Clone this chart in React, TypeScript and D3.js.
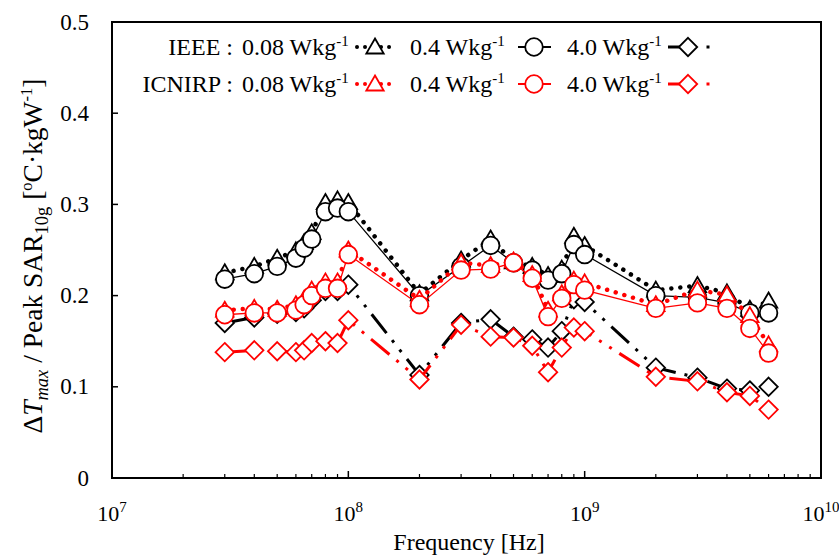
import React from "react";
import * as d3 from "d3";

// Frequencies in MHz
const frequenciesMHz = [30, 40, 50, 60, 65, 70, 80, 90, 100, 200, 300, 400, 500, 600, 700, 800, 900, 1000, 2000, 3000, 4000, 5000, 6000];

const ieee008 = [0.225, 0.232, 0.241, 0.249, 0.258, 0.269, 0.302, 0.305, 0.302, 0.202, 0.239, 0.262, 0.237, 0.232, 0.222, 0.229, 0.265, 0.255, 0.206, 0.211, 0.203, 0.185, 0.194];
const ieee04 = [0.218, 0.224, 0.232, 0.241, 0.252, 0.262, 0.292, 0.296, 0.292, 0.200, 0.232, 0.255, 0.236, 0.228, 0.217, 0.224, 0.256, 0.245, 0.200, 0.198, 0.192, 0.181, 0.181];
const ieee40 = [0.170, 0.176, 0.180, 0.182, 0.186, 0.195, 0.205, 0.205, 0.212, 0.113, 0.170, 0.174, 0.155, 0.152, 0.143, 0.161, 0.196, 0.193, 0.121, 0.110, 0.098, 0.096, 0.100];
const icnirp008 = [0.184, 0.186, 0.185, 0.190, 0.196, 0.206, 0.215, 0.215, 0.250, 0.196, 0.236, 0.233, 0.238, 0.223, 0.184, 0.202, 0.217, 0.214, 0.190, 0.206, 0.201, 0.178, 0.146];
const icnirp04 = [0.179, 0.181, 0.181, 0.184, 0.190, 0.200, 0.208, 0.208, 0.245, 0.190, 0.228, 0.229, 0.236, 0.219, 0.177, 0.197, 0.212, 0.206, 0.186, 0.192, 0.186, 0.164, 0.137];
const icnirp40 = [0.138, 0.140, 0.139, 0.138, 0.140, 0.148, 0.150, 0.148, 0.173, 0.108, 0.168, 0.155, 0.154, 0.145, 0.116, 0.143, 0.165, 0.161, 0.111, 0.106, 0.094, 0.090, 0.075];

const yTicks = [0, 0.1, 0.2, 0.3, 0.4, 0.5];
const yTickLabels = ["0", "0.1", "0.2", "0.3", "0.4", "0.5"];
const xDecades = [7, 8, 9, 10];

const legendRows = ["IEEE :", "ICNIRP :"];
const legendItems = ["0.08 Wkg", "0.4 Wkg", "4.0 Wkg"];

const FONT = "'Liberation Serif', 'Times New Roman', serif";
const BLACK = "#000000";
const RED = "#ff0000";

type Kind = "dot" | "solid" | "dashdot";
type Marker = "tri" | "circle" | "diamond";

const series: { values: number[]; color: string; kind: Kind; marker: Marker }[] = [
  { values: ieee008, color: BLACK, kind: "dot", marker: "tri" },
  { values: ieee04, color: BLACK, kind: "solid", marker: "circle" },
  { values: ieee40, color: BLACK, kind: "dashdot", marker: "diamond" },
  { values: icnirp008, color: RED, kind: "dot", marker: "tri" },
  { values: icnirp04, color: RED, kind: "solid", marker: "circle" },
  { values: icnirp40, color: RED, kind: "dashdot", marker: "diamond" },
];

const lineStyle = (kind: Kind) => {
  if (kind === "dot") return { strokeWidth: 4.5, strokeDasharray: "0.01 9", strokeLinecap: "round" as const };
  if (kind === "solid") return { strokeWidth: 1.3 };
  return { strokeWidth: 3, strokeDasharray: "24 9 3 9 3 9", strokeLinecap: "butt" as const };
};

function MarkerShape({ type, color, cx, cy }: { type: Marker; color: string; cx: number; cy: number }) {
  const common = { fill: "#ffffff", stroke: color, strokeWidth: 1.8 };
  if (type === "circle") return <circle cx={cx} cy={cy} r={8.8} {...common} />;
  if (type === "tri")
    return <path d={`M${cx},${cy - 8.5}L${cx + 8.7},${cy + 6.5}L${cx - 8.7},${cy + 6.5}Z`} {...common} strokeLinejoin="miter" />;
  return <path d={`M${cx},${cy - 9.2}L${cx + 9.2},${cy}L${cx},${cy + 9.2}L${cx - 9.2},${cy}Z`} {...common} />;
}

export default function App() {
  const left = 112, right = 821, top = 22, bottom = 478;
  const x = d3.scaleLog().domain([1e7, 1e10]).range([left, right]);
  const y = d3.scaleLinear().domain([0, 0.5]).range([bottom, top]);
  const freqs = frequenciesMHz.map((f) => f * 1e6);
  const line = d3
    .line<number>()
    .x((_, i) => x(freqs[i]))
    .y((d) => y(d));

  const minorTicks: number[] = [];
  for (let e = 7; e < 10; e++) for (let m = 2; m <= 9; m++) minorTicks.push(m * Math.pow(10, e));

  const legendX = { label: 233, text: [242, 410, 567], marker: [375, 534, 688] };
  const legendY = [47, 84];
  const legendSeries: [Kind, Marker][] = [
    ["dot", "tri"],
    ["solid", "circle"],
    ["dashdot", "diamond"],
  ];

  return (
    <svg width={839} height={558} style={{ position: "absolute", left: 0, top: 0, background: "#fff" }} fontFamily={FONT}>
      <rect x={0} y={0} width={839} height={558} fill="#ffffff" />
      {/* series */}
      {series.map((s, si) => (
        <g key={si}>
          <path d={line(s.values) || ""} fill="none" stroke={s.color} {...lineStyle(s.kind)} />
          {s.values.map((v, i) => (
            <MarkerShape key={i} type={s.marker} color={s.color} cx={x(freqs[i])} cy={y(v)} />
          ))}
        </g>
      ))}
      {/* frame */}
      <rect x={left} y={top} width={right - left} height={bottom - top} fill="none" stroke="#000" strokeWidth={2} />
      {/* y ticks */}
      {yTicks.map((t, i) => (
        <g key={i}>
          <line x1={left} x2={left + 6} y1={y(t)} y2={y(t)} stroke="#000" strokeWidth={1.5} />
          <text x={89} y={y(t) + 7.5} textAnchor="end" fontSize={23}>
            {yTickLabels[i]}
          </text>
        </g>
      ))}
      {/* x ticks */}
      {xDecades.map((e) => (
        <g key={e}>
          <line x1={x(Math.pow(10, e))} x2={x(Math.pow(10, e))} y1={bottom} y2={bottom - 7} stroke="#000" strokeWidth={1.5} />
          <text x={x(Math.pow(10, e))} y={521} textAnchor="middle" fontSize={22}>
            10
            <tspan fontSize={15} baselineShift="9">
              {e}
            </tspan>
          </text>
        </g>
      ))}
      {minorTicks.map((t, i) => (
        <line key={i} x1={x(t)} x2={x(t)} y1={bottom} y2={bottom - 4} stroke="#000" strokeWidth={1.2} />
      ))}
      {/* axis titles */}
      <text x={469} y={550} textAnchor="middle" fontSize={24}>
        Frequency [Hz]
      </text>
      <text transform="translate(42,256) rotate(-90)" textAnchor="middle" fontSize={27.5}>
        Δ<tspan fontStyle="italic">T</tspan>
        <tspan fontStyle="italic" fontSize={18.5} baselineShift="-6">max</tspan>
        <tspan> / Peak SAR</tspan>
        <tspan fontSize={18.5} baselineShift="-6">10g</tspan>
        <tspan> [</tspan>
        <tspan fontSize={16.5} baselineShift="10">o</tspan>
        <tspan>C·kgW</tspan>
        <tspan fontSize={16.5} baselineShift="10">-1</tspan>
        <tspan>]</tspan>
      </text>
      {/* legend */}
      {legendRows.map((r, ri) => {
        const color = ri === 0 ? BLACK : RED;
        const cy = legendY[ri];
        return (
          <g key={ri}>
            <text x={legendX.label} y={cy + 8} textAnchor="end" fontSize={24}>
              {r}
            </text>
            {legendItems.map((it, ii) => (
              <text key={ii} x={legendX.text[ii]} y={cy + 8} fontSize={24}>
                {it}
                <tspan fontSize={15} baselineShift="9">-1</tspan>
              </text>
            ))}
            {legendSeries.map(([k, m], ii) => {
              const mx = legendX.marker[ii];
              const st = lineStyle(k);
              if (k === "dot") {
                return (
                  <g key={ii}>
                    <line x1={mx - 18} x2={mx + 18} y1={cy} y2={cy} stroke={color} {...st} strokeWidth={4} strokeDasharray="0.01 8" />
                    <MarkerShape type={m} color={color} cx={mx} cy={cy} />
                  </g>
                );
              }
              if (k === "solid") {
                return (
                  <g key={ii}>
                    <line x1={mx - 16} x2={mx + 17} y1={cy} y2={cy} stroke={color} strokeWidth={2} />
                    <MarkerShape type={m} color={color} cx={mx} cy={cy} />
                  </g>
                );
              }
              return (
                <g key={ii}>
                  <line x1={mx - 20} x2={mx - 5} y1={cy} y2={cy} stroke={color} strokeWidth={3} />
                  <rect x={mx + 18.5} y={cy - 1.5} width={3} height={3} fill={color} />
                  <MarkerShape type={m} color={color} cx={mx} cy={cy} />
                </g>
              );
            })}
          </g>
        );
      })}
    </svg>
  );
}
